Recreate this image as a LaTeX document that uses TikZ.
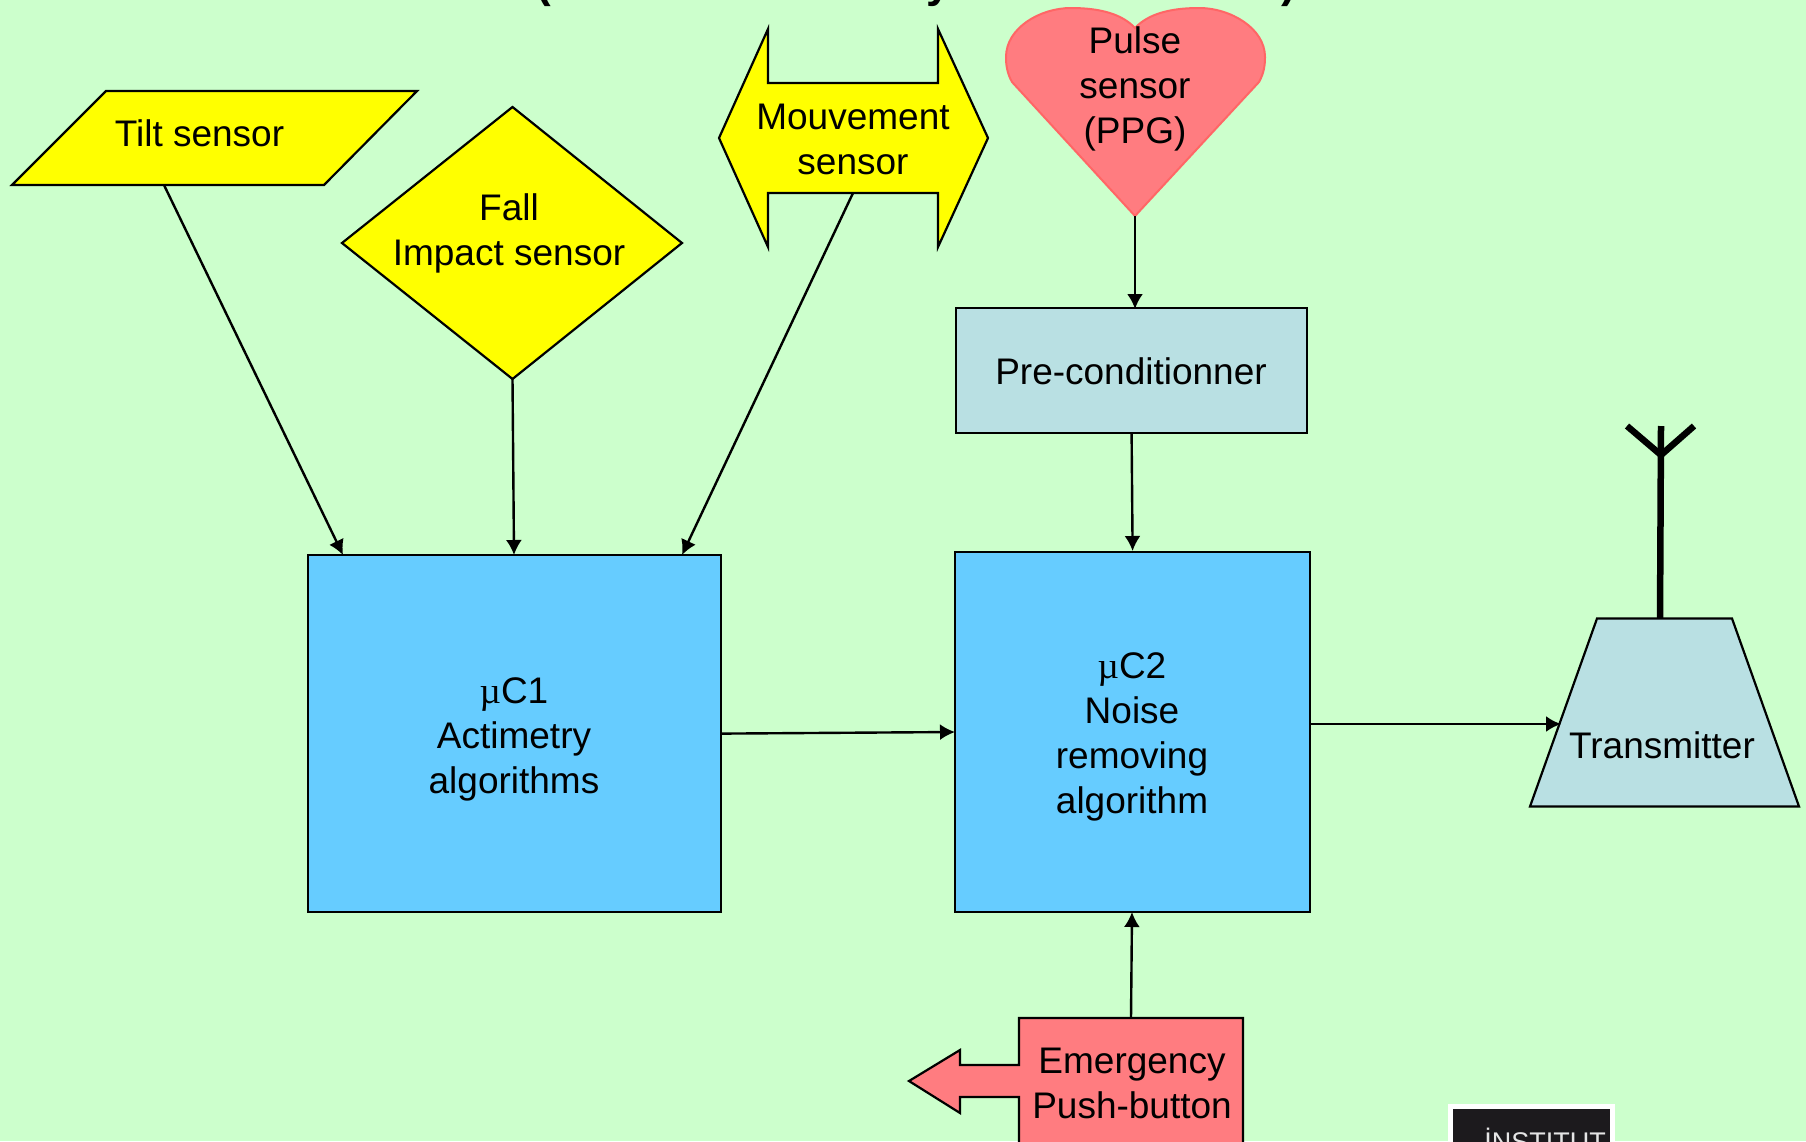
\documentclass[tikz,border=0pt]{standalone}
\usepackage{fontspec}
\setmainfont{Liberation Sans}
\newfontfamily\muserif{Liberation Serif}
\usetikzlibrary{arrows.meta}
\definecolor{bggreen}{HTML}{CCFFCC}
\definecolor{sensoryellow}{HTML}{FFFF00}
\definecolor{pinkred}{HTML}{FF7C80}
\definecolor{heartline}{HTML}{FF6666}
\definecolor{paleblue}{HTML}{B9E0E3}
\definecolor{skyblue}{HTML}{66CCFF}
\definecolor{logoblack}{HTML}{1C1A1D}
\tikzset{
  lbl/.style={font=\fontsize{37}{45}\selectfont, align=center, inner sep=0pt},
  shapeline/.style={draw=black, line width=2.2pt, line join=miter},
  blockbox/.style={shapeline, anchor=north west, inner sep=0pt},
  conn/.style={black, line width=2.4pt, -{Latex[length=15pt,width=16pt]}},
  aerial/.style={black, line width=6.5pt},
  cut/.style={font=\fontsize{44}{50}\selectfont\bfseries, anchor=base, inner sep=0pt}
}
\begin{document}
\begin{tikzpicture}[x=1pt,y=-1pt]
  \useasboundingbox (0,0) rectangle (1806,1141);
  \fill[bggreen] (0,0) rectangle (1806,1141);
  % what is left of the heading
  \node[cut] (headl) at (544,-3) {(};
  \node[cut] (heady) at (939,-3) {y};
  \node[cut] (headr) at (1289,-3) {)};
  % sensors
  \filldraw[shapeline, fill=sensoryellow] (106,91) -- (417,91) -- (324,185) -- (12,185) -- cycle;
  \node[lbl] (tilt) at (199.5,133) {Tilt sensor};
  \filldraw[shapeline, fill=sensoryellow] (512.5,107) -- (682,243) -- (512.5,379) -- (342,243) -- cycle;
  \node[lbl] (fall) at (509,233) {Fall\\Impact sensor};
  \filldraw[shapeline, fill=sensoryellow] (719,138) -- (768,29) -- (768,83) -- (938,83) -- (938,29) -- (988,138)
    -- (938,247) -- (938,193) -- (768,193) -- (768,247) -- cycle;
  \node[lbl] (move) at (853,139) {Mouvement\\sensor};
  \filldraw[draw=heartline, line width=2pt, fill=pinkred] (1135,216) -- (1012,82)
    .. controls (1007,73) and (1006,65) .. (1006,57)
    .. controls (1006,28) and (1040,8) .. (1071,8)
    .. controls (1100,8) and (1122,14) .. (1135,28)
    .. controls (1148,14) and (1170,8) .. (1199,8)
    .. controls (1230,8) and (1265,28) .. (1265,57)
    .. controls (1265,65) and (1264,73) .. (1259,82) -- cycle;
  \node[lbl] (pulse) at (1135,89) {Pulse\\sensor\\(PPG)};
  % blocks
  \node[blockbox, fill=paleblue, minimum width=351pt, minimum height=125pt] (precond) at (955,307) {};
  \node[lbl] (precondtext) at (1131,371) {Pre-conditionner};
  \node[blockbox, fill=skyblue, minimum width=413.5pt, minimum height=357pt] (muca) at (306.5,554) {};
  \node[lbl] (mucatext) at (514,739) {{\muserif µ}C1\\Actimetry\\algorithms};
  \node[blockbox, fill=skyblue, minimum width=355pt, minimum height=360pt] (mucb) at (954,551) {};
  \node[lbl] (mucbtext) at (1132,737) {{\muserif µ}C2\\Noise\\removing\\algorithm};
  % transmitter and its aerial
  \filldraw[shapeline, fill=paleblue] (1597,618.5) -- (1732,618.5) -- (1799,806.5) -- (1530,806.5) -- cycle;
  \node[lbl] (trans) at (1662,745.5) {Transmitter};
  \coordinate (aerialfoot) at (1660,618);
  \coordinate (aerialtop) at (1661,426);
  \coordinate (aerialfork) at (1661,455);
  \coordinate (aerialleft) at (1627,426);
  \coordinate (aerialright) at (1694,426);
  \draw[aerial] (aerialfoot) -- (aerialtop);
  \draw[aerial] (aerialleft) -- (aerialfork) -- (aerialright);
  % push button
  \filldraw[shapeline, fill=pinkred] (1019,1150) -- (1019,1097) -- (960,1097) -- (960,1113) -- (909,1081)
    -- (960,1050) -- (960,1065) -- (1019,1065) -- (1019,1018) -- (1243,1018) -- (1243,1150);
  \node[lbl] (push) at (1132,1083) {Emergency\\Push-button};
  % logo
  \fill[white] (1448,1104) rectangle (1615,1150);
  \fill[logoblack] (1453,1109) rectangle (1610,1150);
  \node[font=\fontsize{27}{27}\selectfont, text=white!90!black, anchor=base, inner sep=0pt] (logo) at (1545,1151) {İNSTITUT};
  % connectors
  \coordinate (tiltout) at (164,185);
  \coordinate (tiltin) at (343,555);
  \coordinate (fallout) at (512.5,379);
  \coordinate (fallin) at (514,555);
  \coordinate (moveout) at (853,193);
  \coordinate (movein) at (682,555);
  \coordinate (pulseout) at (1135,216);
  \coordinate (pulsein) at (1135,309);
  \coordinate (pushout) at (1131,1018);
  \coordinate (pushin) at (1132,912);
  \coordinate (mucbout) at (1310,724);
  \coordinate (transin) at (1561,724);
  \coordinate (mucbleft) at (955,732);
  \draw[conn] (tiltout) -- (tiltin);
  \draw[conn] (fallout) -- (fallin);
  \draw[conn] (moveout) -- (movein);
  \draw[conn] (pulseout) -- (pulsein);
  \draw[conn] (precond.south) -- (mucb.north);
  \draw[conn] (muca.east) -- (mucbleft);
  \draw[conn] (mucbout) -- (transin);
  \draw[conn] (pushout) -- (pushin);
\end{tikzpicture}
\end{document}
